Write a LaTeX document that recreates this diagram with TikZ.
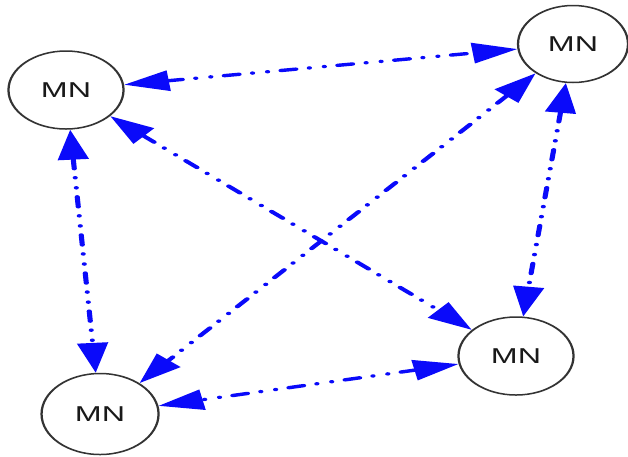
\documentclass[tikz,border=0pt]{standalone}
\usepackage{fontspec}
\setmainfont{Liberation Sans}
\usetikzlibrary{arrows.meta,shapes.geometric}
\definecolor{linkblue}{RGB}{10,10,250}
\begin{document}
\begin{tikzpicture}[x=1pt,y=-1pt,
  mnode/.style={ellipse,draw=black!80,line width=1.5pt,inner sep=0pt,
    minimum width=76.7pt,minimum height=78pt,text=black!90,
    font=\fontsize{21.5}{21.5}\selectfont},
  link/.style={draw=linkblue,line width=3.4pt,line cap=round,
    dash pattern=on 10pt off 9pt on 0.1pt off 10pt on 0.1pt off 9pt,
    {Triangle[length=30pt,width=20pt]}-{Triangle[length=30pt,width=20pt]}}]
\useasboundingbox (0,0) rectangle (628,456);
\fill[white] (0,0) rectangle (628,456);
% the whole network is drawn in a frame widened 1.5 times horizontally
\begin{scope}[transform canvas={xscale=1.5}]
  \node[mnode] (tl) at (44,90) {MN};
  \node[mnode,minimum width=73.3pt,minimum height=77pt] (tr) at (382,44) {MN};
  \node[mnode] (br) at (344,356) {MN};
  \node[mnode,minimum width=78pt,minimum height=81pt] (bl) at (66.7,414) {MN};
  \draw[link] (tl) -- (tr);
  \draw[link] (tl) -- (br);
  \draw[link] (tl) -- (bl);
  \draw[link] (tr) -- (bl);
  \draw[link] (tr) -- (br);
  \draw[link] (br) -- (bl);
\end{scope}
\end{tikzpicture}
\end{document}
